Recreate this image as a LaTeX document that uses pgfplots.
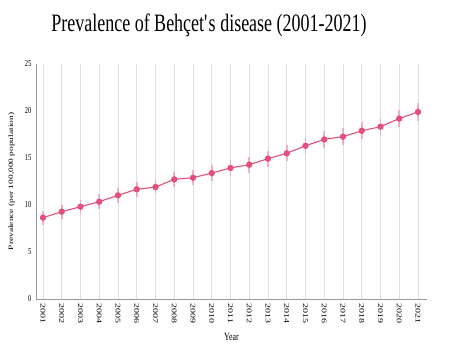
\documentclass[border=0pt]{standalone}
\usepackage{fontspec}
\setmainfont{Liberation Serif}
\newfontfamily\sq[FakeStretch=0.72]{Liberation Serif}
\usepackage{graphicx}
\usepackage{pgfplots}
\usepackage{pgfplotstable}
\pgfplotsset{compat=1.18}
\definecolor{pk}{HTML}{E4507C}
\definecolor{pkl}{HTML}{F0A0B8}
\pgfplotstableread{
year val err
2001 8.65 0.75
2002 9.29 0.76
2003 9.82 0.76
2004 10.35 0.77
2005 11.03 0.78
2006 11.67 0.79
2007 11.91 0.79
2008 12.73 0.80
2009 12.90 0.81
2010 13.40 0.82
2011 13.94 0.83
2012 14.29 0.84
2013 14.93 0.85
2014 15.50 0.86
2015 16.30 0.87
2016 16.98 0.88
2017 17.27 0.88
2018 17.90 0.89
2019 18.33 0.90
2020 19.20 0.91
2021 19.90 0.92
}\data
\begin{document}
\begin{tikzpicture}
\path[use as bounding box] (-36pt,-54pt) rectangle (420pt,299pt);
\begin{axis}[
  scale only axis,
  width=391pt, height=235pt,
  xmin=2000.627, xmax=2021.48,
  ymin=0, ymax=25,
  axis x line=bottom, axis y line=left,
  axis line style={-, draw=gray!80, line width=0.8pt},
  xtick={2001,...,2021},
  ytick={0,5,...,25},
  xticklabel={\scalebox{1}[0.72]{\pgfmathprintnumber[1000 sep={}]{\tick}}},
  xticklabel style={rotate=-90, anchor=west, font=\fontsize{10}{11}\selectfont, inner sep=0pt, xshift=4.3pt},
  yticklabel={\sq\pgfmathprintnumber{\tick}},
  yticklabel style={font=\fontsize{9}{10}\selectfont, inner sep=0pt, xshift=-4.5pt},
  /pgf/number format/assume math mode=true,
  major tick length=0pt,
  xmajorgrids,
  grid style={draw=gray!25, line width=0.6pt},
  xlabel={\sq Year},
  xlabel style={font=\fontsize{11}{12}\selectfont, at={(axis description cs:0.5,0)}, anchor=center, yshift=-38pt},
  ylabel={\scalebox{1}[0.72]{Prevalence (per 100,000 population)}},
  ylabel style={font=\fontsize{9.4}{10}\selectfont, at={(axis description cs:0,0.5)}, anchor=center, yshift=24.5pt},
  clip=false,
]
\addplot[pk, line width=1.1pt, mark=*, mark size=2.6pt, mark options={fill=pk, draw=pk},
  error bars/.cd, y dir=both, y explicit, error mark=none,
  error bar style={pkl, line width=1.6pt, opacity=0.8}]
  table[x=year, y=val, y error=err] {\data};
\end{axis}
\node[font=\fontsize{25}{28}\selectfont\sq, anchor=base, inner sep=0pt] at (173pt,267.3pt) {Prevalence of Behçet\textquotesingle s disease (2001-2021)};
\end{tikzpicture}
\end{document}
